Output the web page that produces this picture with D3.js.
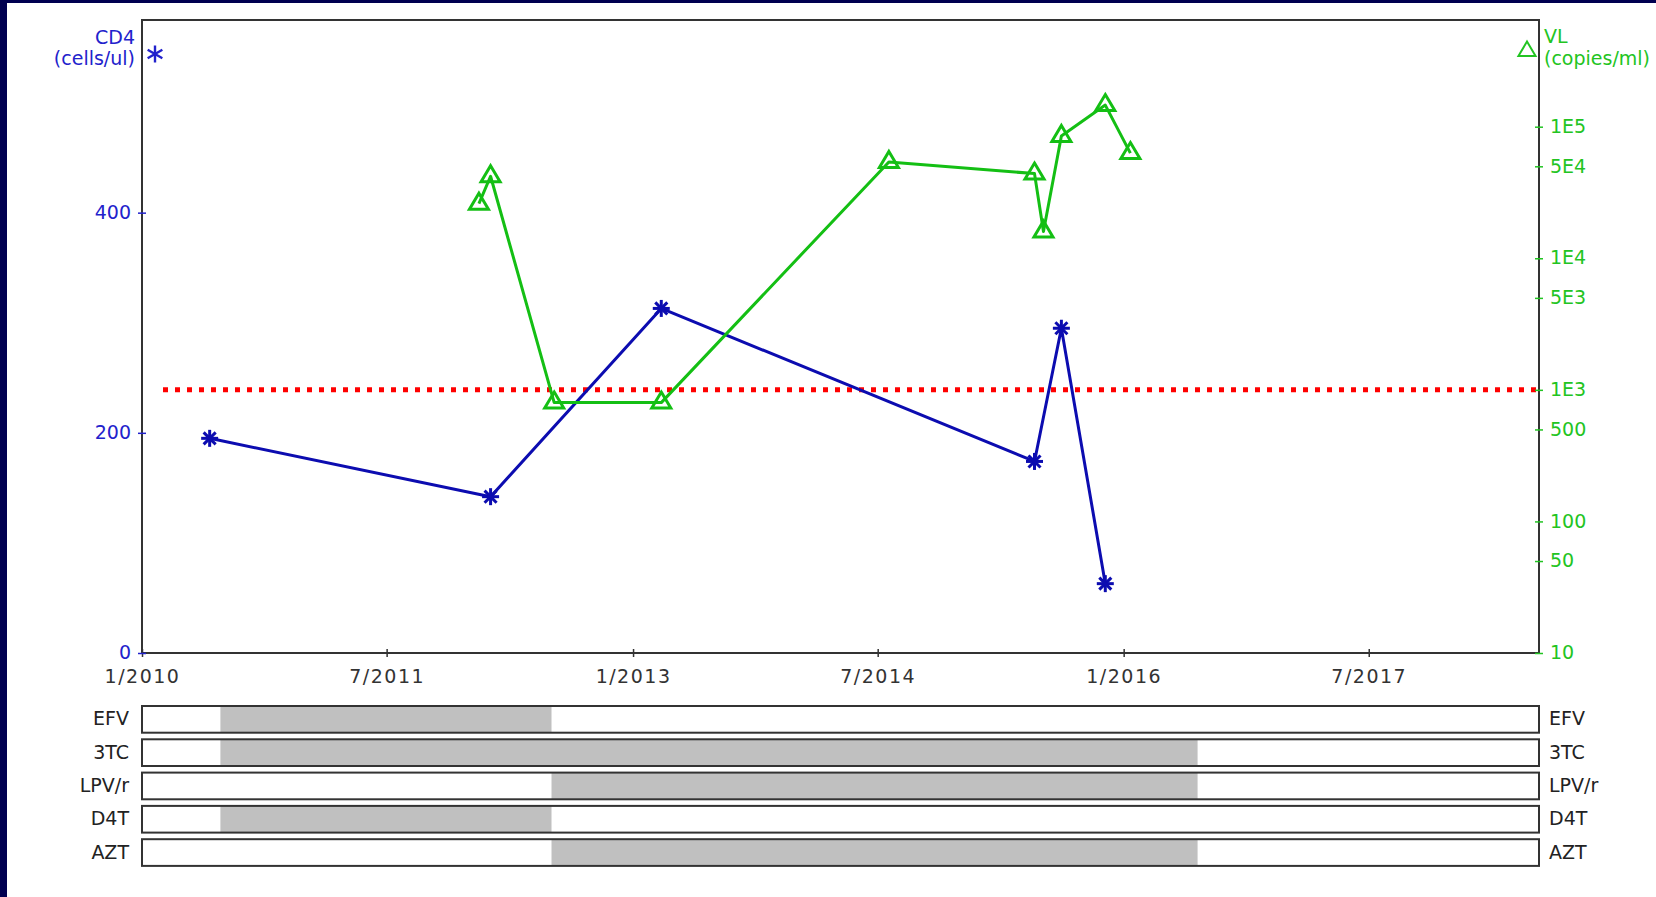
<!DOCTYPE html>
<html>
<head>
<meta charset="utf-8">
<script src="https://cdn.jsdelivr.net/npm/d3@7"></script>
<style>
  html, body { margin: 0; padding: 0; background: #000050; }
  svg { display: block; }
  text { font-family: "DejaVu Sans", sans-serif; }
</style>
</head>
<body>
<svg id="chart" width="1656" height="897"></svg>
<script>
// CD4 count measurements
const cd4Dates  = ["2010-06-01", "2012-02-18", "2013-03-05", "2015-06-16", "2015-08-15", "2015-11-21"];
const cd4Values = [195, 142, 313, 174, 295, 63];

// Viral load measurements (copies/ml)
const vlDates  = ["2012-01-23", "2012-02-18", "2012-07-09", "2013-03-05", "2014-07-26",
                  "2015-06-16", "2015-07-06", "2015-08-15", "2015-11-21", "2016-01-16"];
const vlValues = [26000, 42000, 800, 800, 54000, 44000, 16000, 85000, 146000, 63000];

// Detection threshold for viral load
const vlThreshold = 1000;

// Antiretroviral regimen periods
const drugNames = ["EFV", "3TC", "LPV/r", "D4T", "AZT"];
const drugStart = ["2010-06-25", "2010-06-25", "2012-07-03", "2010-06-25", "2012-07-03"];
const drugEnd   = ["2012-07-03", "2016-06-14", "2016-06-14", "2012-07-03", "2016-06-14"];

// Axis ticks
const timeTicks = ["2010-01-01", "2011-07-01", "2013-01-01", "2014-07-01", "2016-01-01", "2017-07-01"];
const cd4Ticks = [0, 200, 400];
const vlTicks = [10, 50, 100, 500, 1000, 5000, 10000, 50000, 100000];
const vlTickLabels = ["10", "50", "100", "500", "1E3", "5E3", "1E4", "5E4", "1E5"];

const parse = d3.utcParse("%Y-%m-%d");
const svg = d3.select("#chart");

const plotL = 142, plotR = 1539, plotT = 20, plotB = 653;
const blue = "#0c0cb0", blueText = "#2222cc";
const green = "#14bf14", greenText = "#22c422";
const ink = "#333";
const fs = "19px";

// white page inside the dark frame
svg.append("rect").attr("x", 7).attr("y", 3).attr("width", 1656 - 7).attr("height", 897 - 3).attr("fill", "#fff");

const x = d3.scaleUtc().domain([parse("2010-01-01"), parse("2018-07-16")]).range([plotL, plotR]);
const yCd4 = d3.scaleLinear().domain([0, 575]).range([plotB, plotT]);
const yVl = d3.scaleLog().domain([10, 647000]).range([plotB, plotT]);

// threshold line
svg.append("line")
  .attr("x1", 163).attr("x2", plotR)
  .attr("y1", yVl(vlThreshold)).attr("y2", yVl(vlThreshold))
  .attr("stroke", "#ff0000").attr("stroke-width", 5).attr("stroke-dasharray", "5,7");

// plot frame
svg.append("rect").attr("x", plotL).attr("y", plotT).attr("width", plotR - plotL).attr("height", plotB - plotT)
  .attr("fill", "none").attr("stroke", ink).attr("stroke-width", 2);

// x axis
const xAxis = svg.append("g").attr("transform", `translate(0,${plotB})`)
  .call(d3.axisBottom(x).tickValues(timeTicks.map(parse)).tickSize(0).tickPadding(0)
    .tickFormat(d3.utcFormat("%-m/%Y")));
xAxis.select(".domain").remove();
xAxis.selectAll(".tick line").attr("y1", -4).attr("y2", 4).attr("stroke", ink).attr("stroke-width", 1.5);
xAxis.selectAll(".tick text").attr("dy", null).attr("y", 30).attr("fill", ink)
  .style("font-size", fs).style("letter-spacing", "1.5px");

// left CD4 axis
const lAxis = svg.append("g").attr("transform", `translate(${plotL},0)`)
  .call(d3.axisLeft(yCd4).tickValues(cd4Ticks).tickSize(0).tickPadding(0).tickFormat(d3.format("d")));
lAxis.select(".domain").remove();
lAxis.selectAll(".tick line").attr("x1", -4).attr("x2", 4).attr("stroke", blueText).attr("stroke-width", 1.5);
lAxis.selectAll(".tick text").attr("x", -11).attr("dy", "0.3em").attr("fill", blueText).style("font-size", fs);

// right viral load axis
const rAxis = svg.append("g").attr("transform", `translate(${plotR},0)`)
  .call(d3.axisRight(yVl).tickValues(vlTicks).tickSize(0).tickPadding(0)
    .tickFormat((d, i) => vlTickLabels[i]));
rAxis.select(".domain").remove();
rAxis.selectAll(".tick line").attr("x1", -4).attr("x2", 4).attr("stroke", greenText).attr("stroke-width", 1.5);
rAxis.selectAll(".tick text").attr("x", 11).attr("dy", "0.3em").attr("fill", greenText).style("font-size", fs);

// axis titles / legend
svg.append("text").attr("x", 135).attr("y", 44).attr("text-anchor", "end").attr("fill", blueText)
  .style("font-size", fs).text("CD4");
svg.append("text").attr("x", 135).attr("y", 65).attr("text-anchor", "end").attr("fill", blueText)
  .style("font-size", fs).text("(cells/ul)");
svg.append("text").attr("x", 1544).attr("y", 43).attr("fill", greenText)
  .style("font-size", fs).text("VL");
svg.append("text").attr("x", 1544).attr("y", 65).attr("fill", greenText)
  .style("font-size", fs).text("(copies/ml)");

// marker shapes
function asterisk(g, cx, cy, r, spokes, color, w) {
  for (let k = 0; k < spokes; k++) {
    const a = Math.PI * k / spokes + Math.PI / 2;
    g.append("line")
      .attr("x1", cx + r * Math.cos(a)).attr("y1", cy + r * Math.sin(a))
      .attr("x2", cx - r * Math.cos(a)).attr("y2", cy - r * Math.sin(a))
      .attr("stroke", color).attr("stroke-width", w);
  }
}
const triPath = "M0,-10.5L9.5,5.5L-9.5,5.5Z";

// legend markers
asterisk(svg, 155, 54, 8.5, 3, blueText, 2.4);
svg.append("path").attr("d", triPath).attr("transform", "translate(1527,51) scale(0.9)")
  .attr("fill", "none").attr("stroke", greenText).attr("stroke-width", 2.2);

// CD4 series
const cd4 = cd4Dates.map((d, i) => ({ t: parse(d), v: cd4Values[i] }));
svg.append("path").datum(cd4)
  .attr("d", d3.line().x(d => x(d.t)).y(d => yCd4(d.v)))
  .attr("fill", "none").attr("stroke", blue).attr("stroke-width", 3).attr("stroke-linejoin", "round");
const cd4g = svg.append("g");
cd4.forEach(d => asterisk(cd4g, x(d.t), yCd4(d.v), 8.5, 4, blue, 3));

// viral load series
const vl = vlDates.map((d, i) => ({ t: parse(d), v: vlValues[i] }));
svg.append("path").datum(vl)
  .attr("d", d3.line().x(d => x(d.t)).y(d => yVl(d.v)))
  .attr("fill", "none").attr("stroke", green).attr("stroke-width", 3).attr("stroke-linejoin", "round");
svg.append("g").selectAll("path").data(vl).join("path")
  .attr("d", triPath)
  .attr("transform", d => `translate(${x(d.t)},${yVl(d.v)})`)
  .attr("fill", "none").attr("stroke", green).attr("stroke-width", 3);

// regimen bars
const rowTop = 706, rowPitch = 33.3, rowH = 26.7;
const drugs = drugNames.map((n, i) => ({ name: n, s: parse(drugStart[i]), e: parse(drugEnd[i]), i }));
const rows = svg.append("g").selectAll("g").data(drugs).join("g")
  .attr("transform", d => `translate(0,${rowTop + d.i * rowPitch})`);
rows.append("rect").attr("x", plotL).attr("y", 0).attr("width", plotR - plotL).attr("height", rowH)
  .attr("fill", "#fff");
rows.append("rect").attr("x", d => x(d.s)).attr("y", 0).attr("width", d => x(d.e) - x(d.s)).attr("height", rowH)
  .attr("fill", "#c0c0c0");
rows.append("rect").attr("x", plotL).attr("y", 0).attr("width", plotR - plotL).attr("height", rowH)
  .attr("fill", "none").attr("stroke", ink).attr("stroke-width", 2);
rows.append("text").attr("x", 129).attr("y", rowH / 2).attr("dy", "0.32em").attr("text-anchor", "end")
  .attr("fill", "#222").style("font-size", fs).text(d => d.name);
rows.append("text").attr("x", 1549).attr("y", rowH / 2).attr("dy", "0.32em")
  .attr("fill", "#222").style("font-size", fs).text(d => d.name);
</script>
</body>
</html>
